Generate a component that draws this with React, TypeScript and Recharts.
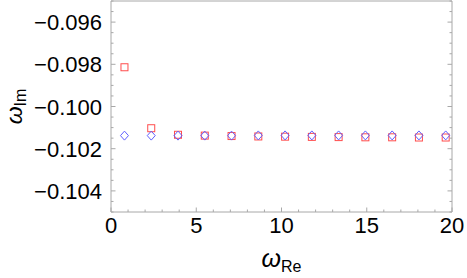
import { ScatterChart, Scatter, XAxis, YAxis } from 'recharts'

// omega_Re positions of the modes
const omegaRe = [0.79, 2.36, 3.93, 5.5, 7.07, 8.64, 10.21, 11.78, 13.35, 14.92, 16.49, 18.06, 19.63]
// omega_Im, red squares
const redIm = [-0.09814, -0.10103, -0.10134, -0.10138, -0.1014, -0.10142, -0.10143, -0.10144, -0.10145, -0.10146, -0.10146, -0.10147, -0.10147]
// omega_Im, blue diamonds
const blueIm = [-0.10138, -0.10138, -0.10138, -0.10138, -0.10138, -0.10137, -0.10137, -0.10137, -0.10137, -0.10137, -0.10137, -0.10137, -0.10137]

const xTicks = [0, 1, 2, 3, 4, 5, 6, 7, 8, 9, 10, 11, 12, 13, 14, 15, 16, 17, 18, 19, 20]
const xLabels = [0, 5, 10, 15, 20]
const yTicks = [
  -0.105, -0.1045, -0.104, -0.1035, -0.103, -0.1025, -0.102, -0.1015, -0.101, -0.1005, -0.1,
  -0.0995, -0.099, -0.0985, -0.098, -0.0975, -0.097, -0.0965, -0.096, -0.0955, -0.095,
]
const yLabels = [-0.096, -0.098, -0.1, -0.102, -0.104]

const redData = omegaRe.map((x, i) => ({ x, y: redIm[i] }))
const blueData = omegaRe.map((x, i) => ({ x, y: blueIm[i] }))

const FRAME = '#a8a8a8'
const FONT = '"Liberation Sans", Arial, sans-serif'

const isLabel = (v: number, list: number[]) => list.some((l) => Math.abs(l - v) < 1e-9)

const BottomTick = ({ x, y, payload }: any) => {
  const major = isLabel(payload.value, xLabels)
  return (
    <g>
      <line x1={x} x2={x} y1={y} y2={y - (major ? 4.5 : 2.5)} stroke={FRAME} />
      {major && (
        <text x={x} y={y + 21} textAnchor="middle" fontSize={22} fontFamily={FONT} fill="#000">
          {payload.value}
        </text>
      )}
    </g>
  )
}

const TopTick = ({ x, y, payload }: any) => {
  const major = isLabel(payload.value, xLabels)
  return <line x1={x} x2={x} y1={y} y2={y + (major ? 4.5 : 2.5)} stroke={FRAME} />
}

const LeftTick = ({ x, y, payload }: any) => {
  const major = isLabel(payload.value, yLabels)
  return (
    <g>
      <line x1={x} x2={x + (major ? 4.5 : 2.5)} y1={y} y2={y} stroke={FRAME} />
      {major && (
        <text x={x - 9} y={y + 8} textAnchor="end" fontSize={22} fontFamily={FONT} fill="#000">
          {'\u2212' + Math.abs(payload.value).toFixed(3)}
        </text>
      )}
    </g>
  )
}

const RightTick = ({ x, y, payload }: any) => {
  const major = isLabel(payload.value, yLabels)
  return <line x1={x} x2={x - (major ? 4.5 : 2.5)} y1={y} y2={y} stroke={FRAME} />
}

const Square = ({ cx, cy }: any) => (
  <rect x={cx - 3.5} y={cy - 3.5} width={7} height={7} fill="none" stroke="#ff4d4d" strokeWidth={1} />
)

const Diamond = ({ cx, cy }: any) => (
  <polygon
    points={`${cx},${cy - 4.5} ${cx + 4},${cy} ${cx},${cy + 4.5} ${cx - 4},${cy}`}
    fill="none"
    stroke="#6060ff"
    strokeWidth={1}
  />
)

const XLabel = ({ viewBox }: any) => (
  <text x={viewBox.x + viewBox.width / 2} y={267} textAnchor="middle" fontSize={25} fontFamily={FONT} fill="#000">
    <tspan fontStyle="italic">ω</tspan>
    <tspan fontSize={16} dy={5}>Re</tspan>
  </text>
)

const YLabel = () => {
  const cx = 22
  const cy = 106.5
  return (
    <text x={cx} y={cy} transform={`rotate(-90, ${cx}, ${cy})`} textAnchor="middle" fontSize={23} fontFamily={FONT} fill="#000">
      <tspan fontStyle="italic">ω</tspan>
      <tspan fontSize={16} dy={4}>Im</tspan>
    </text>
  )
}

export default function App() {
  return (
    <div style={{ position: 'absolute', left: 0, top: 0, width: 467, height: 278, background: '#fff' }}>
      <ScatterChart width={467} height={278} margin={{ top: 0, right: 10, bottom: 36, left: 51 }}>
        <XAxis
          xAxisId="b"
          dataKey="x"
          type="number"
          domain={[0, 20]}
          ticks={xTicks}
          interval={0}
          height={30}
          tickSize={0}
          tickMargin={0}
          tickLine={false}
          axisLine={{ stroke: FRAME }}
          tick={<BottomTick />}
          label={<XLabel />}
          allowDataOverflow
        />
        <XAxis
          xAxisId="t"
          orientation="top"
          type="number"
          domain={[0, 20]}
          ticks={xTicks}
          interval={0}
          height={1}
          tickSize={0}
          tickMargin={0}
          tickLine={false}
          axisLine={{ stroke: FRAME }}
          tick={<TopTick />}
          allowDataOverflow
        />
        <YAxis
          yAxisId="l"
          dataKey="y"
          type="number"
          domain={[-0.105, -0.095]}
          ticks={yTicks}
          interval={0}
          width={60}
          tickSize={0}
          tickMargin={0}
          tickLine={false}
          axisLine={{ stroke: FRAME }}
          tick={<LeftTick />}
          label={<YLabel />}
          allowDataOverflow
        />
        <YAxis
          yAxisId="r"
          orientation="right"
          type="number"
          domain={[-0.105, -0.095]}
          ticks={yTicks}
          interval={0}
          width={5}
          tickSize={0}
          tickMargin={0}
          tickLine={false}
          axisLine={{ stroke: FRAME }}
          tick={<RightTick />}
          allowDataOverflow
        />
        <Scatter xAxisId="b" yAxisId="l" data={redData} shape={<Square />} isAnimationActive={false} />
        <Scatter xAxisId="b" yAxisId="l" data={blueData} shape={<Diamond />} isAnimationActive={false} />
      </ScatterChart>
    </div>
  )
}
